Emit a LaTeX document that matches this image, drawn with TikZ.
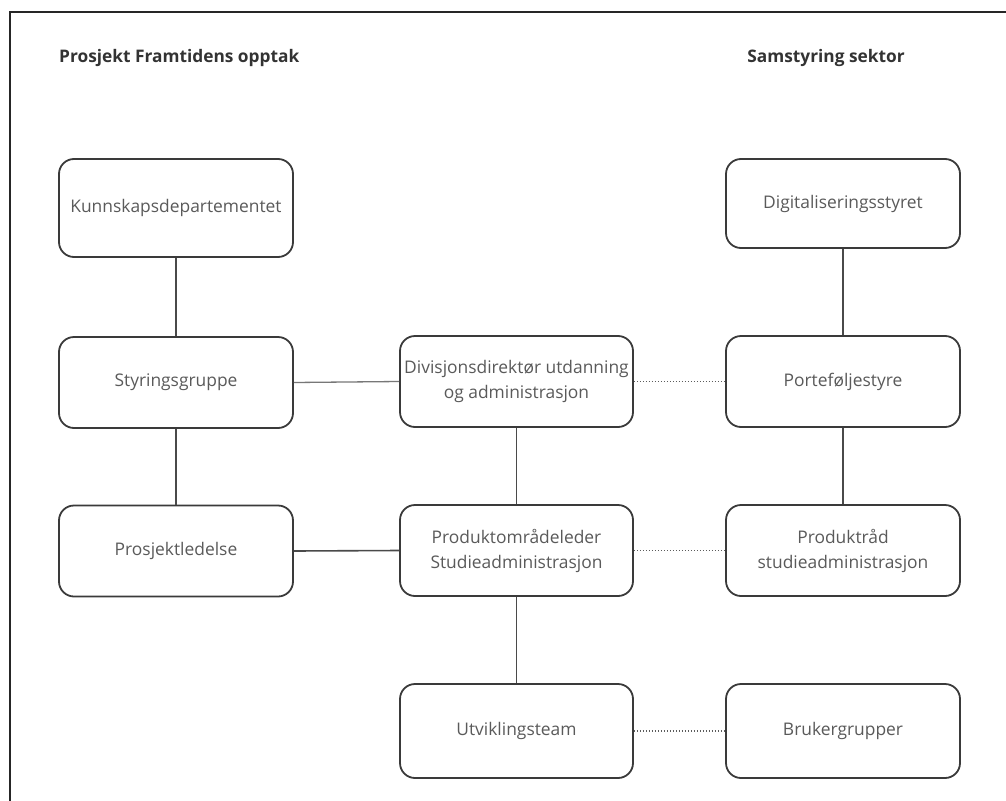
\documentclass[tikz,border=0pt]{standalone}
\usepackage{fontspec}
\setmainfont{Open Sans}
\usetikzlibrary{positioning}
\definecolor{boxline}{HTML}{3A3A3A}
\definecolor{boxtext}{HTML}{5A5A5A}
\definecolor{titletext}{HTML}{333333}
\definecolor{conn}{HTML}{4A4A4A}
\begin{document}
\begin{tikzpicture}[x=1pt,y=-1pt,
  orgbox/.style={draw=boxline, line width=1.8pt, rounded corners=15pt,
    minimum width=234pt, minimum height=91pt, align=center, text=boxtext,
    font=\fontsize{17.4}{25}\selectfont, inner sep=2pt},
  titlelabel/.style={text=titletext, font=\bfseries\fontsize{17.3}{20}\selectfont, inner sep=0pt},
  solidlink/.style={draw=conn, line width=1.6pt},
  lightlink/.style={draw=conn!75, line width=1.3pt},
  dotlink/.style={draw=conn!90, line width=1.5pt, dash pattern=on 1.4pt off 1.6pt}
]
\useasboundingbox (0,0) rectangle (1006,800);
\fill[white] (0,0) rectangle (1006,800);
% frame
\draw[line width=2.5pt, draw=black!85] (10,805) -- (10,12) -- (1011,12);

% titles
\node[titlelabel, anchor=west] (t1) at (59,58) {Prosjekt Framtidens opptak};
\node[titlelabel] (t2) at (826,58) {Samstyring sektor};

% boxes
\node[orgbox, minimum height=98pt] (kd) at (176,208) {Kunnskapsdepartementet};
\node[orgbox] (sg) at (176,382.5) {Styringsgruppe};
\node[orgbox] (pl) at (176,551) {Prosjektledelse};
\node[orgbox, minimum width=233pt] (dd) at (516.5,381.5) {Divisjonsdirektør utdanning\\og administrasjon};
\node[orgbox, minimum width=233pt] (po) at (516.5,550.5) {Produktområdeleder\\Studieadministrasjon};
\node[orgbox, minimum width=233pt, minimum height=94pt] (ut) at (516.5,731) {Utviklingsteam};
\node[orgbox, minimum height=89pt] (ds) at (843,203.5) {Digitaliseringsstyret};
\node[orgbox] (pf) at (843,381.5) {Porteføljestyre};
\node[orgbox] (pr) at (843,550.5) {Produktråd\\studieadministrasjon};
\node[orgbox, minimum height=94pt] (bg) at (843,731) {Brukergrupper};

% connectors
\draw[solidlink] (kd.south) -- (sg.north);
\draw[solidlink] (sg.south) -- (pl.north);
\draw[lightlink] (sg.east) -- (dd.west);
\draw[solidlink] (dd.south) -- (po.north);
\draw[solidlink] (po.west) -- (pl.east);
\draw[solidlink] (po.south) -- (ut.north);
\draw[solidlink] (ds.south) -- (pf.north);
\draw[solidlink] (pf.south) -- (pr.north);
\draw[dotlink] (dd.east) -- (pf.west);
\draw[dotlink] (po.east) -- (pr.west);
\draw[dotlink] (ut.east) -- (bg.west);
\end{tikzpicture}
\end{document}
